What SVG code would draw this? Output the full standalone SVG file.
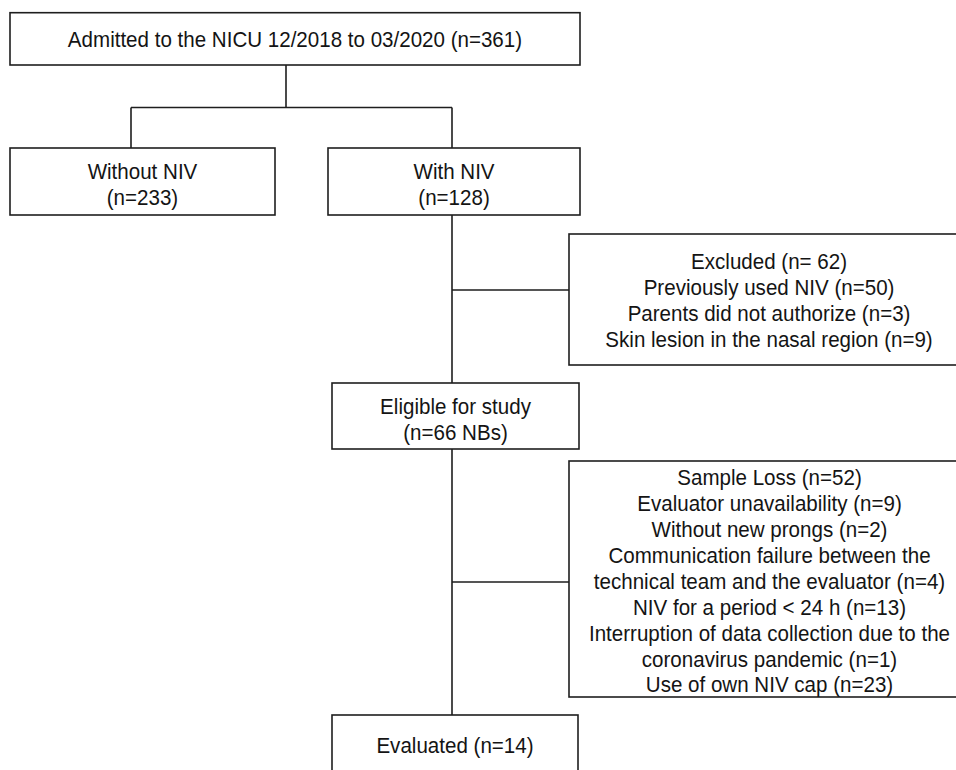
<svg xmlns="http://www.w3.org/2000/svg" width="956" height="770" viewBox="0 0 956 770">
<style>
.box{fill:#fff;stroke:#1e1e1e;stroke-width:1.6}
.ln{fill:none;stroke:#1e1e1e;stroke-width:1.6}
text{font-family:"Liberation Sans",Arial,sans-serif;font-size:22px;fill:#141414;text-anchor:middle}
</style>
<rect width="956" height="770" fill="#fff"/>
<g id="connectors">
<path class="ln" d="M286 65 V107.5 M131 107.5 H452 M131 107.5 V148 M452 107.5 V148 M452 215 V383 M452 290 H569 M452 449 V715 M452 582 H569"/>
</g>
<g id="admitted">
<rect class="box" x="10" y="12.7" width="570" height="52.3"/>
<g transform="scale(0.935 1)">
<text x="315.5" y="47.5">Admitted to the NICU 12/2018 to 03/2020 (n=361)</text>
</g>
</g>
<g id="without-niv">
<rect class="box" x="10" y="148" width="265" height="67"/>
<g transform="scale(0.935 1)">
<text x="152.4" y="179.5">Without NIV</text>
<text x="152.4" y="205.5">(n=233)</text>
</g>
</g>
<g id="with-niv">
<rect class="box" x="328" y="148" width="252" height="67"/>
<g transform="scale(0.935 1)">
<text x="485.6" y="179.5">With NIV</text>
<text x="485.6" y="205.5">(n=128)</text>
</g>
</g>
<g id="excluded">
<rect class="box" x="569" y="234" width="400" height="131"/>
<g transform="scale(0.935 1)">
<text x="822.5" y="269.5">Excluded (n= 62)</text>
<text x="822.5" y="295.4">Previously used NIV (n=50)</text>
<text x="822.5" y="321.3">Parents did not authorize (n=3)</text>
<text x="822.5" y="347.2">Skin lesion in the nasal region (n=9)</text>
</g>
</g>
<g id="eligible">
<rect class="box" x="332" y="383" width="247" height="66"/>
<g transform="scale(0.935 1)">
<text x="487.2" y="414">Eligible for study</text>
<text x="487.2" y="440">(n=66 NBs)</text>
</g>
</g>
<g id="sample-loss">
<rect class="box" x="569" y="461" width="400" height="236"/>
<g transform="scale(0.935 1)">
<text x="823" y="485">Sample Loss (n=52)</text>
<text x="823" y="511">Evaluator unavailability (n=9)</text>
<text x="823" y="537">Without new prongs (n=2)</text>
<text x="823" y="563">Communication failure between the</text>
<text x="823" y="589">technical team and the evaluator (n=4)</text>
<text x="823" y="615">NIV for a period &lt; 24 h (n=13)</text>
<text x="823" y="641">Interruption of data collection due to the</text>
<text x="823" y="667">coronavirus pandemic (n=1)</text>
<text x="823" y="692.5">Use of own NIV cap (n=23)</text>
</g>
</g>
<g id="evaluated">
<rect class="box" x="332" y="715" width="246" height="80"/>
<g transform="scale(0.935 1)">
<text x="486.6" y="753">Evaluated (n=14)</text>
</g>
</g>
</svg>
